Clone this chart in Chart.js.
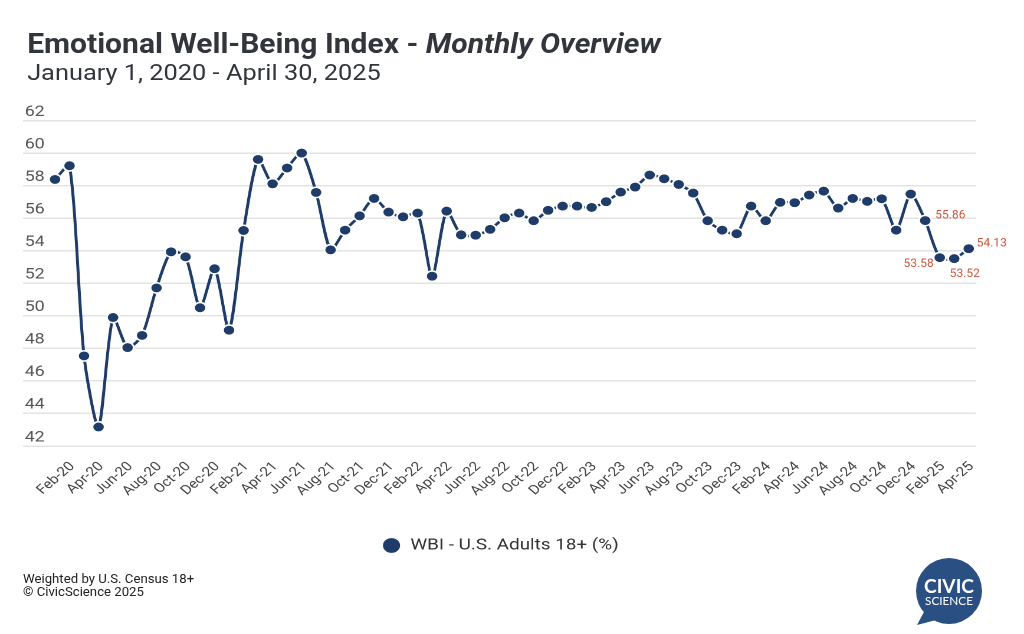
<!DOCTYPE html>
<html>
<head>
<meta charset="utf-8">
<script src="https://cdn.jsdelivr.net/npm/chart.js@4.4.1/dist/chart.umd.min.js"></script>
<style>
html,body{margin:0;padding:0;background:#fff;width:1024px;height:634px;overflow:hidden;font-family:Roboto,"Noto Sans",sans-serif;}
#wrap{position:absolute;left:0;top:0;width:868px;height:634px;transform:scaleX(1.17972);transform-origin:0 0;}
#chart{position:absolute;left:0;top:0;}
.title{position:absolute;left:22.6px;top:30.6px;font-size:27px;line-height:27px;font-weight:700;color:#32363c;white-space:nowrap;transform:scaleX(0.943);transform-origin:0 0;}
.title i{font-style:italic;}
.sub{position:absolute;left:22.6px;top:61.5px;font-size:22px;line-height:22px;color:#32363c;white-space:nowrap;transform:scaleX(0.977);transform-origin:0 0;}
.foot{position:absolute;left:23px;top:572px;font-size:13.2px;line-height:13px;color:#222;white-space:nowrap;}
#logo{position:absolute;left:915px;top:556px;}
</style>
</head>
<body>
<div id="wrap">
  <canvas id="chart" width="868" height="634"></canvas>
  <div class="title">Emotional Well-Being Index - <i>Monthly Overview</i></div>
  <div class="sub">January 1, 2020 - April 30, 2025</div>
</div>
<div class="foot">Weighted by U.S. Census 18+<br>© CivicScience 2025</div>
<svg id="logo" width="72" height="74" viewBox="0 0 72 74">
  <circle cx="34" cy="35" r="33" fill="#2a4f82"/>
  <path d="M10 54 L2 69 L25 63 Z" fill="#2a4f82"/>
  <text x="34" y="37" text-anchor="middle" font-family="Lato, 'Open Sans', sans-serif" font-weight="700" font-size="18" fill="#fff" textLength="50" lengthAdjust="spacingAndGlyphs">CIVIC</text>
  <text x="34" y="49" text-anchor="middle" font-family="Lato, 'Open Sans', sans-serif" font-weight="400" font-size="11.5" fill="#fff" textLength="48" lengthAdjust="spacingAndGlyphs">SCIENCE</text>
</svg>
<script>
// ---- data ----
const categories = [
  'Jan-20','Feb-20','Mar-20','Apr-20','May-20','Jun-20','Jul-20','Aug-20','Sep-20','Oct-20','Nov-20','Dec-20',
  'Jan-21','Feb-21','Mar-21','Apr-21','May-21','Jun-21','Jul-21','Aug-21','Sep-21','Oct-21','Nov-21','Dec-21',
  'Jan-22','Feb-22','Mar-22','Apr-22','May-22','Jun-22','Jul-22','Aug-22','Sep-22','Oct-22','Nov-22','Dec-22',
  'Jan-23','Feb-23','Mar-23','Apr-23','May-23','Jun-23','Jul-23','Aug-23','Sep-23','Oct-23','Nov-23','Dec-23',
  'Jan-24','Feb-24','Mar-24','Apr-24','May-24','Jun-24','Jul-24','Aug-24','Sep-24','Oct-24','Nov-24','Dec-24',
  'Jan-25','Feb-25','Mar-25','Apr-25'
];
const wbiValues = [
  58.39, 59.23, 47.54, 43.17, 49.90, 48.05, 48.80, 51.72, 53.94, 53.63, 50.50, 52.90,
  49.12, 55.25, 59.62, 58.12, 59.09, 60.01, 57.59, 54.06, 55.27, 56.15, 57.22, 56.38,
  56.09, 56.32, 52.44, 56.44, 54.98, 54.96, 55.32, 56.03, 56.32, 55.85, 56.49, 56.75,
  56.75, 56.67, 57.02, 57.61, 57.92, 58.66, 58.43, 58.08, 57.55, 55.85, 55.27, 55.05,
  56.75, 55.85, 56.98, 56.96, 57.43, 57.67, 56.63, 57.22, 57.04, 57.20, 55.27, 57.49,
  55.86, 53.58, 53.52, 54.13
];
const seriesName = 'WBI - U.S. Adults 18+ (%)';
const yMin = 42, yMax = 62, yStep = 2;
const labeledMonths = ['Jan-25','Feb-25','Mar-25','Apr-25'];

const STRETCH = 1.17972;

// ---- value labels on the last points ----
const valueLabels = {
  id: 'valueLabels',
  afterDatasetsDraw(chart) {
    const meta = chart.getDatasetMeta(0);
    const ctx = chart.ctx;
    // offsets in final (screen) pixels
    const place = {
      'Jan-25': [10, -5, 'left'],
      'Feb-25': [-6, 6.5, 'right'],
      'Mar-25': [10.5, 15.5, 'center'],
      'Apr-25': [8, -5, 'left']
    };
    labeledMonths.forEach(m => {
      const i = categories.indexOf(m);
      const pt = meta.data[i];
      const p = place[m];
      ctx.save();
      ctx.translate(pt.x, pt.y);
      ctx.scale(1 / STRETCH, 1);
      ctx.font = '12px Roboto';
      ctx.fillStyle = '#c8553d';
      ctx.textBaseline = 'middle';
      ctx.textAlign = p[2];
      ctx.fillText(wbiValues[i].toFixed(2), p[0], p[1]);
      ctx.restore();
    });
  }
};

Chart.defaults.font.family = 'Roboto';
const navy = '#1f3c69';

new Chart(document.getElementById('chart'), {
  type: 'line',
  data: {
    labels: categories,
    datasets: [{
      label: seriesName,
      data: wbiValues,
      borderColor: navy,
      backgroundColor: navy,
      borderWidth: 2.5,
      tension: 0.25,
      pointRadius: 5.2,
      pointHoverRadius: 5.2,
      pointBackgroundColor: navy,
      pointBorderColor: '#ffffff',
      pointBorderWidth: 1.5,
      fill: false
    }]
  },
  options: {
    responsive: false,
    animation: false,
    devicePixelRatio: 2,
    layout: { padding: { top: 120.7, left: 21, right: 40.7, bottom: 70.5 } },
    plugins: {
      legend: {
        position: 'bottom',
        labels: {
          usePointStyle: true,
          pointStyle: 'circle',
          boxHeight: 11.5,
          pointStyleWidth: 16,
          padding: 10,
          color: '#333',
          font: { size: 16 }
        }
      },
      tooltip: { enabled: false }
    },
    scales: {
      x: {
        type: 'category',
        offset: true,
        grid: { display: false, drawTicks: false },
        border: { display: false },
        afterFit: s => { s.height = 81.5; },
        ticks: {
          autoSkip: false,
          maxRotation: 45,
          minRotation: 45,
          padding: 13,
          labelOffset: 2.5,
          color: '#444',
          font: { size: 13 },
          callback: function (v, i) { return i % 2 === 1 ? this.getLabelForValue(v) : ''; }
        }
      },
      y: {
        min: yMin,
        max: yMax,
        afterFit: s => { s.width = 19.5; },
        grid: { color: '#e3e3e3', lineWidth: 1.5, drawTicks: true, tickLength: 21 },
        border: { display: false },
        ticks: {
          stepSize: yStep,
          crossAlign: 'far',
          labelOffset: -8.5,
          color: '#555',
          font: { size: 15 }
        }
      }
    }
  },
  plugins: [valueLabels]
});
</script>
</body>
</html>
